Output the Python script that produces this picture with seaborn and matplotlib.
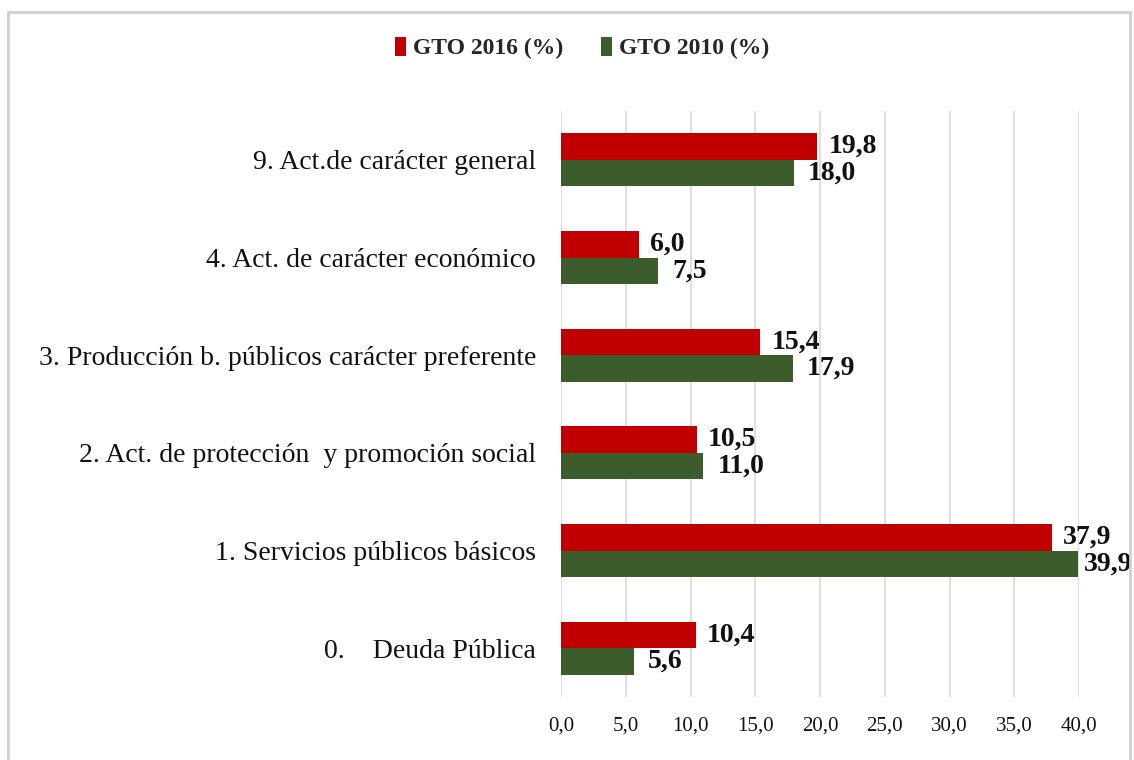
import matplotlib
matplotlib.use("Agg")
import matplotlib.pyplot as plt
import seaborn as sns
import pandas as pd
from matplotlib.patches import Rectangle

categories = [
    "9. Act.de carácter general",
    "4. Act. de carácter económico",
    "3. Producción b. públicos carácter preferente",
    "2. Act. de protección  y promoción social",
    "1. Servicios públicos básicos",
    "0.    Deuda Pública",
]
gto_2016 = [19.8, 6.0, 15.4, 10.5, 37.9, 10.4]
gto_2010 = [18.0, 7.5, 17.9, 11.0, 39.9, 5.6]
series_names = ["GTO 2016 (%)", "GTO 2010 (%)"]
x_ticks = [0, 5, 10, 15, 20, 25, 30, 35, 40]

df = pd.DataFrame({
    "cat": categories * 2,
    "val": gto_2016 + gto_2010,
    "serie": [series_names[0]] * len(categories) + [series_names[1]] * len(categories),
})

sns.set_theme(style="white")
plt.rcParams["font.family"] = ["Liberation Serif", "DejaVu Serif"]

fig = plt.figure(figsize=(11.34, 7.6), dpi=100)
ax = fig.add_axes([561/1134, 1-697/760, 518/1134, 586/760])

palette = {series_names[0]: "#C00000", series_names[1]: "#3D5C2B"}
sns.barplot(data=df, y="cat", x="val", hue="serie", order=categories,
            hue_order=series_names, palette=palette, orient="h",
            width=0.54, ax=ax, saturation=1, legend=True,
            edgecolor="none", linewidth=0)

ax.set_xlim(0, 40)
ax.set_ylim(5.5, -0.5)

# data labels (kept inside the figure)
fig.canvas.draw()
pads = [11, 14]
for cont, pad in zip(ax.containers, pads):
    for bar, v in zip(cont.patches, cont.datavalues):
        xe = bar.get_x() + bar.get_width()
        yc = bar.get_y() + bar.get_height() / 2
        px = ax.transData.transform((xe, yc))[0]
        p = min(pad, 1131 - 47 - px)
        ax.annotate(f"{v:.1f}".replace(".", ","), xy=(xe, yc),
                    xytext=(p * 0.72, 0), textcoords="offset points",
                    ha="left", va="center", fontsize=20,
                    fontweight="bold", color="#111111", annotation_clip=False)

ax.set_xticks(x_ticks)
ax.set_xticklabels([f"{t:.1f}".replace(".", ",") for t in x_ticks], fontsize=15)
ax.tick_params(axis="x", pad=14, length=0, labelcolor="#111111")
ax.tick_params(axis="y", pad=18, length=0, labelsize=20, labelcolor="#111111")
ax.set_xlabel("")
ax.set_ylabel("")
ax.grid(axis="x", color="#D9D9D9", linewidth=1.2)
ax.set_axisbelow(True)
for s in ax.spines.values():
    s.set_visible(False)

handles, lbls = ax.get_legend_handles_labels()
ax.get_legend().remove()
fig.legend(handles, lbls, loc="center", bbox_to_anchor=(582/1134, 1-48/760),
           ncol=2, frameon=False, handlelength=0.45, handleheight=0.9,
           handletextpad=0.3, columnspacing=1.6,
           prop={"family": "Liberation Serif", "weight": "bold", "size": 17})

# chart frame
fig.patches.append(Rectangle((8/1134, -0.05), 1122/1134, 1.05 - 12/760,
                             transform=fig.transFigure, fill=False,
                             edgecolor="#D0D0D0", linewidth=2))

fig.savefig("out.png", dpi=100)
